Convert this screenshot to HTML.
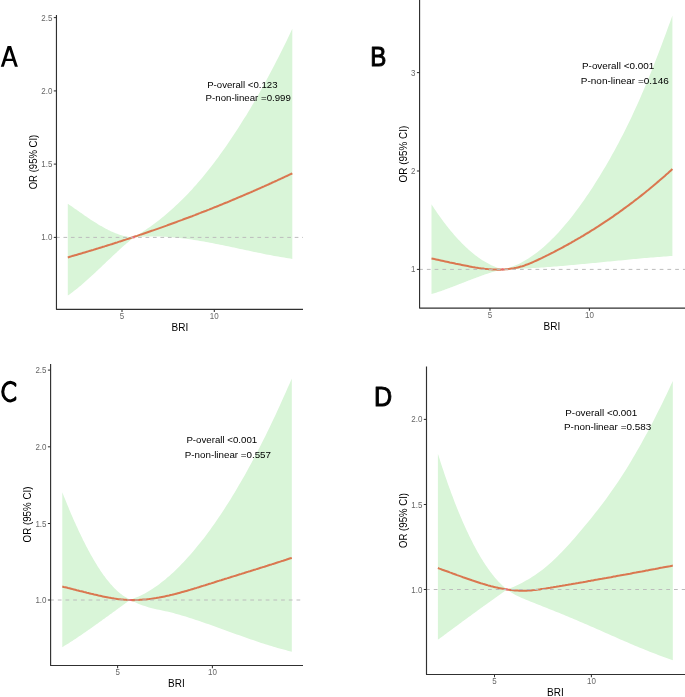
<!DOCTYPE html>
<html><head><meta charset="utf-8"><title>RCS BRI</title>
<style>
html,body{margin:0;padding:0;background:#fff;}
body{width:685px;height:697px;overflow:hidden;font-family:"Liberation Sans",sans-serif;}
svg{display:block;will-change:transform;filter:blur(0.3px);}
text{font-family:"Liberation Sans",sans-serif;}
.tk{font-size:8.7px;fill:#666666;}
.lab{font-size:10px;fill:#000;}
.ann{font-size:9.7px;fill:#000;}
.let{fill:#000;stroke:#000;stroke-width:1.0;stroke-linejoin:round;}
</style></head><body>
<svg width="685" height="697" viewBox="0 0 685 697">
<rect width="685" height="697" fill="#fff"/>
<g id="panelA">
<path d="M67.8,203.7 L68.6,204.3 L69.5,204.9 L70.3,205.4 L71.1,206.0 L72.0,206.6 L72.8,207.2 L73.6,207.8 L74.5,208.4 L75.3,209.0 L76.2,209.5 L77.0,210.1 L77.8,210.7 L78.7,211.3 L79.5,211.9 L80.3,212.5 L81.2,213.1 L82.0,213.6 L82.8,214.2 L83.7,214.8 L84.5,215.4 L85.3,216.0 L86.2,216.5 L87.0,217.1 L87.9,217.7 L88.7,218.2 L89.5,218.8 L90.4,219.4 L91.2,219.9 L92.0,220.5 L92.9,221.0 L93.7,221.5 L94.5,222.1 L95.4,222.6 L96.2,223.1 L97.0,223.6 L97.9,224.2 L98.7,224.7 L99.5,225.2 L100.4,225.7 L101.2,226.1 L102.1,226.6 L102.9,227.1 L103.7,227.6 L104.6,228.0 L105.4,228.5 L106.2,228.9 L107.1,229.3 L107.9,229.8 L108.7,230.2 L109.6,230.6 L110.4,231.0 L111.2,231.4 L112.1,231.8 L112.9,232.1 L113.7,232.5 L114.6,232.8 L115.4,233.2 L116.3,233.5 L117.1,233.8 L117.9,234.1 L118.8,234.4 L119.6,234.7 L120.4,235.0 L121.3,235.2 L122.1,235.5 L122.9,235.7 L123.8,235.9 L124.6,236.1 L125.4,236.3 L126.3,236.5 L127.1,236.6 L128.0,236.8 L128.8,236.9 L129.6,237.0 L130.5,237.1 L131.3,237.2 L132.1,237.3 L133.0,237.4 L133.8,237.4 L133.8,237.4 L135.8,236.2 L137.8,234.9 L139.8,233.7 L141.8,232.4 L143.8,231.0 L145.8,229.7 L147.8,228.3 L149.9,226.9 L151.9,225.5 L153.9,224.0 L155.9,222.5 L157.9,221.0 L159.9,219.4 L161.9,217.8 L163.9,216.2 L165.9,214.5 L167.9,212.8 L169.9,211.0 L171.9,209.3 L173.9,207.5 L175.9,205.6 L177.9,203.7 L179.9,201.8 L182.0,199.8 L184.0,197.8 L186.0,195.8 L188.0,193.7 L190.0,191.5 L192.0,189.4 L194.0,187.1 L196.0,184.9 L198.0,182.6 L200.0,180.2 L202.0,177.9 L204.0,175.4 L206.0,173.0 L208.0,170.5 L210.0,167.9 L212.0,165.4 L214.1,162.7 L216.1,160.1 L218.1,157.4 L220.1,154.6 L222.1,151.8 L224.1,149.0 L226.1,146.2 L228.1,143.3 L230.1,140.3 L232.1,137.3 L234.1,134.3 L236.1,131.3 L238.1,128.2 L240.1,125.0 L242.1,121.8 L244.1,118.6 L246.2,115.4 L248.2,112.1 L250.2,108.7 L252.2,105.3 L254.2,101.9 L256.2,98.5 L258.2,95.0 L260.2,91.4 L262.2,87.8 L264.2,84.2 L266.2,80.5 L268.2,76.8 L270.2,73.0 L272.2,69.2 L274.2,65.4 L276.2,61.5 L278.3,57.6 L280.3,53.6 L282.3,49.6 L284.3,45.5 L286.3,41.4 L288.3,37.2 L290.3,33.0 L292.3,28.7 L292.3,258.9 L290.3,258.6 L288.3,258.3 L286.3,258.0 L284.3,257.6 L282.3,257.3 L280.3,257.0 L278.3,256.6 L276.2,256.3 L274.2,255.9 L272.2,255.5 L270.2,255.1 L268.2,254.8 L266.2,254.4 L264.2,254.0 L262.2,253.6 L260.2,253.1 L258.2,252.7 L256.2,252.3 L254.2,251.9 L252.2,251.5 L250.2,251.0 L248.2,250.6 L246.2,250.2 L244.1,249.8 L242.1,249.3 L240.1,248.9 L238.1,248.5 L236.1,248.0 L234.1,247.6 L232.1,247.2 L230.1,246.7 L228.1,246.3 L226.1,245.9 L224.1,245.5 L222.1,245.1 L220.1,244.7 L218.1,244.3 L216.1,243.9 L214.1,243.5 L212.0,243.1 L210.0,242.7 L208.0,242.3 L206.0,242.0 L204.0,241.6 L202.0,241.2 L200.0,240.9 L198.0,240.6 L196.0,240.2 L194.0,239.9 L192.0,239.6 L190.0,239.3 L188.0,239.1 L186.0,238.8 L184.0,238.5 L182.0,238.3 L179.9,238.0 L177.9,237.8 L175.9,237.6 L173.9,237.4 L171.9,237.3 L169.9,237.1 L167.9,237.0 L165.9,236.8 L163.9,236.7 L161.9,236.6 L159.9,236.6 L157.9,236.5 L155.9,236.5 L153.9,236.4 L151.9,236.4 L149.9,236.5 L147.8,236.5 L145.8,236.6 L143.8,236.7 L141.8,236.8 L139.8,236.9 L137.8,237.0 L135.8,237.2 L133.8,237.4 L133.8,237.4 L133.0,238.1 L132.1,238.7 L131.3,239.4 L130.5,240.1 L129.6,240.8 L128.8,241.5 L128.0,242.2 L127.1,242.9 L126.3,243.6 L125.4,244.4 L124.6,245.1 L123.8,245.8 L122.9,246.6 L122.1,247.3 L121.3,248.1 L120.4,248.8 L119.6,249.6 L118.8,250.4 L117.9,251.1 L117.1,251.9 L116.3,252.7 L115.4,253.4 L114.6,254.2 L113.7,255.0 L112.9,255.8 L112.1,256.6 L111.2,257.4 L110.4,258.2 L109.6,258.9 L108.7,259.7 L107.9,260.5 L107.1,261.3 L106.2,262.1 L105.4,262.9 L104.6,263.7 L103.7,264.5 L102.9,265.3 L102.1,266.1 L101.2,266.9 L100.4,267.7 L99.5,268.5 L98.7,269.3 L97.9,270.1 L97.0,270.9 L96.2,271.6 L95.4,272.4 L94.5,273.2 L93.7,274.0 L92.9,274.8 L92.0,275.5 L91.2,276.3 L90.4,277.1 L89.5,277.8 L88.7,278.6 L87.9,279.3 L87.0,280.1 L86.2,280.8 L85.3,281.6 L84.5,282.3 L83.7,283.0 L82.8,283.8 L82.0,284.5 L81.2,285.2 L80.3,285.9 L79.5,286.6 L78.7,287.3 L77.8,288.0 L77.0,288.7 L76.2,289.3 L75.3,290.0 L74.5,290.6 L73.6,291.3 L72.8,291.9 L72.0,292.6 L71.1,293.2 L70.3,293.8 L69.5,294.4 L68.6,295.0 L67.8,295.6Z" fill="#d9f5d8"/>
<path d="M67.8,257.4 L69.2,257.0 L70.6,256.6 L72.0,256.1 L73.4,255.7 L74.9,255.3 L76.3,254.9 L77.7,254.5 L79.1,254.1 L80.5,253.7 L81.9,253.3 L83.3,252.8 L84.7,252.4 L86.2,252.0 L87.6,251.6 L89.0,251.1 L90.4,250.7 L91.8,250.3 L93.2,249.9 L94.6,249.4 L96.0,249.0 L97.5,248.6 L98.9,248.1 L100.3,247.7 L101.7,247.3 L103.1,246.8 L104.5,246.4 L105.9,245.9 L107.3,245.5 L108.7,245.1 L110.2,244.6 L111.6,244.2 L113.0,243.7 L114.4,243.3 L115.8,242.8 L117.2,242.4 L118.6,241.9 L120.0,241.4 L121.5,241.0 L122.9,240.5 L124.3,240.1 L125.7,239.6 L127.1,239.1 L128.5,238.7 L129.9,238.2 L131.3,237.7 L132.7,237.3 L134.2,236.8 L135.6,236.3 L137.0,235.9 L138.4,235.4 L139.8,234.9 L141.2,234.4 L142.6,234.0 L144.0,233.5 L145.5,233.0 L146.9,232.5 L148.3,232.0 L149.7,231.5 L151.1,231.0 L152.5,230.6 L153.9,230.1 L155.3,229.6 L156.8,229.1 L158.2,228.6 L159.6,228.1 L161.0,227.6 L162.4,227.1 L163.8,226.6 L165.2,226.1 L166.6,225.6 L168.0,225.0 L169.5,224.5 L170.9,224.0 L172.3,223.5 L173.7,223.0 L175.1,222.5 L176.5,222.0 L177.9,221.4 L179.3,220.9 L180.8,220.4 L182.2,219.9 L183.6,219.3 L185.0,218.8 L186.4,218.3 L187.8,217.8 L189.2,217.2 L190.6,216.7 L192.1,216.2 L193.5,215.6 L194.9,215.1 L196.3,214.5 L197.7,214.0 L199.1,213.4 L200.5,212.9 L201.9,212.3 L203.3,211.8 L204.8,211.2 L206.2,210.7 L207.6,210.1 L209.0,209.6 L210.4,209.0 L211.8,208.5 L213.2,207.9 L214.6,207.3 L216.1,206.8 L217.5,206.2 L218.9,205.6 L220.3,205.0 L221.7,204.5 L223.1,203.9 L224.5,203.3 L225.9,202.7 L227.4,202.2 L228.8,201.6 L230.2,201.0 L231.6,200.4 L233.0,199.8 L234.4,199.2 L235.8,198.6 L237.2,198.0 L238.6,197.4 L240.1,196.8 L241.5,196.2 L242.9,195.6 L244.3,195.0 L245.7,194.4 L247.1,193.8 L248.5,193.2 L249.9,192.6 L251.4,192.0 L252.8,191.4 L254.2,190.7 L255.6,190.1 L257.0,189.5 L258.4,188.9 L259.8,188.3 L261.2,187.6 L262.6,187.0 L264.1,186.4 L265.5,185.7 L266.9,185.1 L268.3,184.5 L269.7,183.8 L271.1,183.2 L272.5,182.5 L273.9,181.9 L275.4,181.2 L276.8,180.6 L278.2,179.9 L279.6,179.3 L281.0,178.6 L282.4,178.0 L283.8,177.3 L285.2,176.6 L286.7,176.0 L288.1,175.3 L289.5,174.6 L290.9,174.0 L292.3,173.3" fill="none" stroke="#da7750" stroke-width="2.05" stroke-linejoin="round"/>
<line x1="56.0" y1="237.4" x2="303.0" y2="237.4" stroke="#bcbcbc" stroke-width="1.0" stroke-dasharray="3.7 3.76"/>
<circle cx="133.8" cy="237.4" r="1.1" fill="#f2607a" fill-opacity="0.85"/>
<path d="M56.45,15.0 V309.35 H303.0" fill="none" stroke="#303030" stroke-width="1.15" stroke-linejoin="round"/>
<line x1="53.8" y1="17.6" x2="56.45" y2="17.6" stroke="#303030" stroke-width="1.05"/>
<text class="tk" transform="translate(52.4,20.6) scale(0.92,1)" text-anchor="end">2.5</text>
<line x1="53.8" y1="90.9" x2="56.45" y2="90.9" stroke="#303030" stroke-width="1.05"/>
<text class="tk" transform="translate(52.4,93.9) scale(0.92,1)" text-anchor="end">2.0</text>
<line x1="53.8" y1="164.1" x2="56.45" y2="164.1" stroke="#303030" stroke-width="1.05"/>
<text class="tk" transform="translate(52.4,167.1) scale(0.92,1)" text-anchor="end">1.5</text>
<line x1="53.8" y1="237.4" x2="56.45" y2="237.4" stroke="#303030" stroke-width="1.05"/>
<text class="tk" transform="translate(52.4,240.4) scale(0.92,1)" text-anchor="end">1.0</text>
<line x1="122.0" y1="309.35" x2="122.0" y2="312.1" stroke="#303030" stroke-width="1.05"/>
<text class="tk" transform="translate(122.0,319.0) scale(0.92,1)" text-anchor="middle">5</text>
<line x1="214.3" y1="309.35" x2="214.3" y2="312.1" stroke="#303030" stroke-width="1.05"/>
<text class="tk" transform="translate(214.3,319.0) scale(0.92,1)" text-anchor="middle">10</text>
<text class="lab" transform="translate(36.5,162.0) rotate(-90)" text-anchor="middle" textLength="54.6" lengthAdjust="spacingAndGlyphs">OR (95% CI)</text>
<text class="lab" x="171.6" y="331.0">BRI</text>
<text class="ann" x="207.2" y="87.8" textLength="70.3" lengthAdjust="spacingAndGlyphs">P-overall &lt;0.123</text>
<text class="ann" x="205.6" y="101.2" textLength="85.3" lengthAdjust="spacingAndGlyphs">P-non-linear =0.999</text>
<path fill="#000" fill-rule="evenodd" d="M0.8,66.8 L7.6,46 L11.1,46 L17.9,66.8 L14.9,66.8 L12.97,60.9 L5.73,60.9 L3.8,66.8 Z M9.35,49.8 L12.25,58.7 L6.45,58.7 Z"/>
</g>
<g id="panelB">
<path d="M431.5,204.3 L432.4,205.7 L433.3,207.1 L434.2,208.4 L435.1,209.8 L436.0,211.1 L436.9,212.4 L437.8,213.7 L438.7,215.0 L439.6,216.3 L440.5,217.5 L441.4,218.8 L442.3,220.0 L443.2,221.2 L444.1,222.4 L445.0,223.6 L445.9,224.8 L446.8,225.9 L447.7,227.1 L448.6,228.2 L449.5,229.3 L450.4,230.4 L451.3,231.5 L452.2,232.6 L453.1,233.6 L454.0,234.7 L454.9,235.7 L455.8,236.7 L456.7,237.7 L457.6,238.7 L458.5,239.7 L459.4,240.6 L460.3,241.6 L461.2,242.5 L462.1,243.4 L463.0,244.3 L463.9,245.2 L464.8,246.1 L465.7,246.9 L466.6,247.8 L467.5,248.6 L468.4,249.4 L469.3,250.2 L470.2,251.0 L471.1,251.8 L472.0,252.5 L472.9,253.3 L473.8,254.0 L474.7,254.7 L475.6,255.4 L476.5,256.1 L477.4,256.8 L478.3,257.4 L479.2,258.0 L480.1,258.7 L481.0,259.3 L481.9,259.9 L482.8,260.4 L483.7,261.0 L484.6,261.6 L485.5,262.1 L486.4,262.6 L487.3,263.1 L488.2,263.6 L489.1,264.1 L490.0,264.5 L490.9,265.0 L491.8,265.4 L492.7,265.8 L493.6,266.2 L494.5,266.6 L495.4,267.0 L496.3,267.3 L497.2,267.7 L498.1,268.0 L499.0,268.3 L499.9,268.6 L500.8,268.9 L501.7,269.2 L502.6,269.4 L502.6,269.4 L504.7,268.9 L506.9,268.4 L509.0,267.7 L511.2,267.0 L513.3,266.2 L515.5,265.3 L517.6,264.4 L519.8,263.4 L521.9,262.3 L524.1,261.1 L526.2,259.8 L528.4,258.5 L530.5,257.1 L532.7,255.6 L534.8,254.1 L537.0,252.4 L539.1,250.8 L541.3,249.0 L543.4,247.2 L545.6,245.3 L547.7,243.3 L549.9,241.2 L552.0,239.1 L554.2,237.0 L556.3,234.7 L558.5,232.4 L560.6,230.0 L562.8,227.6 L564.9,225.1 L567.1,222.5 L569.2,219.9 L571.4,217.2 L573.5,214.4 L575.7,211.6 L577.8,208.7 L580.0,205.8 L582.1,202.8 L584.3,199.7 L586.4,196.6 L588.6,193.4 L590.7,190.2 L592.9,186.9 L595.0,183.5 L597.2,180.1 L599.3,176.7 L601.5,173.1 L603.6,169.6 L605.8,165.9 L607.9,162.2 L610.1,158.5 L612.2,154.6 L614.4,150.7 L616.5,146.8 L618.7,142.7 L620.8,138.6 L623.0,134.4 L625.1,130.2 L627.3,125.8 L629.4,121.4 L631.6,116.9 L633.7,112.3 L635.9,107.6 L638.0,102.9 L640.2,98.0 L642.3,93.1 L644.5,88.1 L646.6,83.0 L648.8,77.8 L650.9,72.5 L653.1,67.1 L655.2,61.6 L657.4,56.1 L659.5,50.4 L661.7,44.7 L663.8,39.0 L666.0,33.2 L668.1,27.3 L670.3,21.4 L672.4,15.4 L672.4,255.9 L670.3,256.1 L668.1,256.2 L666.0,256.4 L663.8,256.5 L661.7,256.7 L659.5,256.9 L657.4,257.0 L655.2,257.2 L653.1,257.4 L650.9,257.6 L648.8,257.8 L646.6,258.0 L644.5,258.1 L642.3,258.3 L640.2,258.5 L638.0,258.7 L635.9,258.9 L633.7,259.1 L631.6,259.3 L629.4,259.5 L627.3,259.7 L625.1,259.9 L623.0,260.2 L620.8,260.4 L618.7,260.6 L616.5,260.8 L614.4,261.0 L612.2,261.2 L610.1,261.4 L607.9,261.6 L605.8,261.8 L603.6,262.0 L601.5,262.3 L599.3,262.5 L597.2,262.7 L595.0,262.9 L592.9,263.1 L590.7,263.3 L588.6,263.5 L586.4,263.7 L584.3,263.9 L582.1,264.1 L580.0,264.3 L577.8,264.5 L575.7,264.7 L573.5,264.9 L571.4,265.1 L569.2,265.3 L567.1,265.5 L564.9,265.7 L562.8,265.9 L560.6,266.0 L558.5,266.2 L556.3,266.4 L554.2,266.6 L552.0,266.7 L549.9,266.9 L547.7,267.1 L545.6,267.2 L543.4,267.4 L541.3,267.5 L539.1,267.7 L537.0,267.8 L534.8,267.9 L532.7,268.1 L530.5,268.2 L528.4,268.3 L526.2,268.5 L524.1,268.6 L521.9,268.7 L519.8,268.8 L517.6,268.9 L515.5,269.0 L513.3,269.1 L511.2,269.1 L509.0,269.2 L506.9,269.3 L504.7,269.3 L502.6,269.4 L502.6,269.4 L501.7,269.6 L500.8,269.8 L499.9,270.0 L499.0,270.3 L498.1,270.5 L497.2,270.7 L496.3,271.0 L495.4,271.2 L494.5,271.5 L493.6,271.8 L492.7,272.0 L491.8,272.3 L490.9,272.6 L490.0,272.9 L489.1,273.1 L488.2,273.4 L487.3,273.7 L486.4,274.0 L485.5,274.3 L484.6,274.6 L483.7,274.9 L482.8,275.3 L481.9,275.6 L481.0,275.9 L480.1,276.2 L479.2,276.5 L478.3,276.9 L477.4,277.2 L476.5,277.5 L475.6,277.9 L474.7,278.2 L473.8,278.5 L472.9,278.9 L472.0,279.2 L471.1,279.6 L470.2,279.9 L469.3,280.3 L468.4,280.6 L467.5,281.0 L466.6,281.3 L465.7,281.7 L464.8,282.0 L463.9,282.4 L463.0,282.7 L462.1,283.1 L461.2,283.4 L460.3,283.8 L459.4,284.1 L458.5,284.5 L457.6,284.8 L456.7,285.2 L455.8,285.5 L454.9,285.9 L454.0,286.2 L453.1,286.6 L452.2,286.9 L451.3,287.3 L450.4,287.6 L449.5,287.9 L448.6,288.3 L447.7,288.6 L446.8,288.9 L445.9,289.3 L445.0,289.6 L444.1,289.9 L443.2,290.2 L442.3,290.6 L441.4,290.9 L440.5,291.2 L439.6,291.5 L438.7,291.8 L437.8,292.1 L436.9,292.4 L436.0,292.7 L435.1,293.0 L434.2,293.3 L433.3,293.5 L432.4,293.8 L431.5,294.1Z" fill="#d9f5d8"/>
<path d="M431.5,258.4 L433.0,258.7 L434.5,259.1 L436.0,259.4 L437.6,259.7 L439.1,260.1 L440.6,260.4 L442.1,260.7 L443.6,261.1 L445.1,261.4 L446.7,261.7 L448.2,262.0 L449.7,262.4 L451.2,262.7 L452.7,263.0 L454.2,263.3 L455.7,263.7 L457.3,264.0 L458.8,264.3 L460.3,264.6 L461.8,264.9 L463.3,265.2 L464.8,265.5 L466.3,265.8 L467.9,266.1 L469.4,266.4 L470.9,266.7 L472.4,267.0 L473.9,267.2 L475.4,267.5 L477.0,267.7 L478.5,268.0 L480.0,268.2 L481.5,268.4 L483.0,268.6 L484.5,268.8 L486.0,268.9 L487.6,269.1 L489.1,269.2 L490.6,269.3 L492.1,269.4 L493.6,269.5 L495.1,269.5 L496.6,269.6 L498.2,269.6 L499.7,269.6 L501.2,269.6 L502.7,269.5 L504.2,269.4 L505.7,269.3 L507.3,269.2 L508.8,269.0 L510.3,268.8 L511.8,268.6 L513.3,268.4 L514.8,268.1 L516.3,267.8 L517.9,267.4 L519.4,267.0 L520.9,266.6 L522.4,266.2 L523.9,265.7 L525.4,265.1 L527.0,264.6 L528.5,264.0 L530.0,263.4 L531.5,262.8 L533.0,262.1 L534.5,261.4 L536.0,260.7 L537.6,260.0 L539.1,259.3 L540.6,258.6 L542.1,257.9 L543.6,257.1 L545.1,256.4 L546.6,255.6 L548.2,254.9 L549.7,254.1 L551.2,253.3 L552.7,252.6 L554.2,251.8 L555.7,251.0 L557.3,250.2 L558.8,249.4 L560.3,248.6 L561.8,247.8 L563.3,247.0 L564.8,246.1 L566.3,245.3 L567.9,244.5 L569.4,243.6 L570.9,242.8 L572.4,241.9 L573.9,241.1 L575.4,240.2 L576.9,239.3 L578.5,238.4 L580.0,237.6 L581.5,236.7 L583.0,235.8 L584.5,234.8 L586.0,233.9 L587.6,233.0 L589.1,232.1 L590.6,231.1 L592.1,230.2 L593.6,229.3 L595.1,228.3 L596.6,227.3 L598.2,226.4 L599.7,225.4 L601.2,224.4 L602.7,223.4 L604.2,222.4 L605.7,221.4 L607.3,220.4 L608.8,219.4 L610.3,218.3 L611.8,217.3 L613.3,216.3 L614.8,215.2 L616.3,214.1 L617.9,213.1 L619.4,212.0 L620.9,210.9 L622.4,209.8 L623.9,208.7 L625.4,207.6 L626.9,206.5 L628.5,205.4 L630.0,204.2 L631.5,203.1 L633.0,202.0 L634.5,200.8 L636.0,199.6 L637.6,198.5 L639.1,197.3 L640.6,196.1 L642.1,194.9 L643.6,193.7 L645.1,192.5 L646.6,191.2 L648.2,190.0 L649.7,188.8 L651.2,187.5 L652.7,186.3 L654.2,185.0 L655.7,183.7 L657.2,182.4 L658.8,181.1 L660.3,179.8 L661.8,178.5 L663.3,177.2 L664.8,175.9 L666.3,174.5 L667.9,173.2 L669.4,171.8 L670.9,170.4 L672.4,169.1" fill="none" stroke="#da7750" stroke-width="2.05" stroke-linejoin="round"/>
<line x1="419.1" y1="269.4" x2="685.0" y2="269.4" stroke="#bcbcbc" stroke-width="1.0" stroke-dasharray="3.75 4.01"/>
<circle cx="502.6" cy="269.4" r="1.1" fill="#f2607a" fill-opacity="0.85"/>
<path d="M419.58,0.0 V308.1 H685.0" fill="none" stroke="#303030" stroke-width="1.15" stroke-linejoin="round"/>
<line x1="416.9" y1="72.6" x2="419.58" y2="72.6" stroke="#303030" stroke-width="1.05"/>
<text class="tk" transform="translate(415.5,75.6) scale(0.92,1)" text-anchor="end">3</text>
<line x1="416.9" y1="171.0" x2="419.58" y2="171.0" stroke="#303030" stroke-width="1.05"/>
<text class="tk" transform="translate(415.5,174.0) scale(0.92,1)" text-anchor="end">2</text>
<line x1="416.9" y1="269.4" x2="419.58" y2="269.4" stroke="#303030" stroke-width="1.05"/>
<text class="tk" transform="translate(415.5,272.4) scale(0.92,1)" text-anchor="end">1</text>
<line x1="490.0" y1="308.1" x2="490.0" y2="310.8" stroke="#303030" stroke-width="1.05"/>
<text class="tk" transform="translate(490.0,317.7) scale(0.92,1)" text-anchor="middle">5</text>
<line x1="589.4" y1="308.1" x2="589.4" y2="310.8" stroke="#303030" stroke-width="1.05"/>
<text class="tk" transform="translate(589.4,317.7) scale(0.92,1)" text-anchor="middle">10</text>
<text class="lab" transform="translate(406.8,154.1) rotate(-90)" text-anchor="middle" textLength="56.7" lengthAdjust="spacingAndGlyphs">OR (95% CI)</text>
<text class="lab" x="543.6" y="330.3">BRI</text>
<text class="ann" x="582.0" y="68.8" textLength="72.2" lengthAdjust="spacingAndGlyphs">P-overall &lt;0.001</text>
<text class="ann" x="580.8" y="83.6" textLength="88.0" lengthAdjust="spacingAndGlyphs">P-non-linear =0.146</text>
<text class="let" transform="translate(370.19,65.94) scale(0.862,1.020)" font-size="28">B</text>
</g>
<g id="panelC">
<path d="M62.3,492.3 L63.2,494.5 L64.0,496.7 L64.9,498.8 L65.8,501.0 L66.6,503.1 L67.5,505.2 L68.4,507.3 L69.2,509.4 L70.1,511.4 L70.9,513.4 L71.8,515.5 L72.7,517.5 L73.5,519.4 L74.4,521.4 L75.3,523.3 L76.1,525.2 L77.0,527.1 L77.9,529.0 L78.7,530.9 L79.6,532.7 L80.5,534.5 L81.3,536.3 L82.2,538.1 L83.0,539.9 L83.9,541.6 L84.8,543.3 L85.6,545.0 L86.5,546.7 L87.4,548.3 L88.2,550.0 L89.1,551.6 L90.0,553.2 L90.8,554.7 L91.7,556.3 L92.6,557.8 L93.4,559.3 L94.3,560.8 L95.2,562.2 L96.0,563.6 L96.9,565.0 L97.7,566.4 L98.6,567.8 L99.5,569.1 L100.3,570.4 L101.2,571.7 L102.1,573.0 L102.9,574.2 L103.8,575.4 L104.7,576.6 L105.5,577.7 L106.4,578.9 L107.3,580.0 L108.1,581.1 L109.0,582.1 L109.9,583.2 L110.7,584.2 L111.6,585.1 L112.4,586.1 L113.3,587.0 L114.2,587.9 L115.0,588.8 L115.9,589.6 L116.8,590.4 L117.6,591.2 L118.5,592.0 L119.4,592.7 L120.2,593.4 L121.1,594.1 L122.0,594.7 L122.8,595.4 L123.7,595.9 L124.5,596.5 L125.4,597.0 L126.3,597.5 L127.1,598.0 L128.0,598.5 L128.9,598.9 L129.7,599.2 L130.6,599.6 L130.6,599.6 L132.6,598.9 L134.7,598.1 L136.7,597.3 L138.8,596.4 L140.8,595.5 L142.8,594.5 L144.9,593.4 L146.9,592.2 L149.0,591.0 L151.0,589.8 L153.0,588.5 L155.1,587.1 L157.1,585.7 L159.2,584.2 L161.2,582.6 L163.2,581.0 L165.3,579.4 L167.3,577.6 L169.4,575.9 L171.4,574.1 L173.5,572.2 L175.5,570.2 L177.5,568.3 L179.6,566.2 L181.6,564.1 L183.7,562.0 L185.7,559.8 L187.7,557.6 L189.8,555.3 L191.8,552.9 L193.9,550.6 L195.9,548.1 L197.9,545.6 L200.0,543.1 L202.0,540.5 L204.1,537.9 L206.1,535.2 L208.1,532.4 L210.2,529.7 L212.2,526.8 L214.3,524.0 L216.3,521.0 L218.3,518.0 L220.4,515.0 L222.4,511.9 L224.5,508.8 L226.5,505.6 L228.5,502.4 L230.6,499.2 L232.6,495.8 L234.7,492.5 L236.7,489.1 L238.7,485.6 L240.8,482.1 L242.8,478.5 L244.9,474.9 L246.9,471.3 L248.9,467.6 L251.0,463.8 L253.0,460.0 L255.1,456.1 L257.1,452.2 L259.2,448.3 L261.2,444.3 L263.2,440.3 L265.3,436.2 L267.3,432.0 L269.4,427.8 L271.4,423.6 L273.4,419.3 L275.5,414.9 L277.5,410.5 L279.6,406.1 L281.6,401.6 L283.6,397.1 L285.7,392.5 L287.7,387.8 L289.8,383.2 L291.8,378.4 L291.8,651.7 L289.8,651.2 L287.7,650.7 L285.7,650.1 L283.6,649.6 L281.6,649.0 L279.6,648.5 L277.5,647.9 L275.5,647.3 L273.4,646.7 L271.4,646.1 L269.4,645.5 L267.3,644.8 L265.3,644.2 L263.2,643.5 L261.2,642.9 L259.2,642.2 L257.1,641.5 L255.1,640.8 L253.0,640.1 L251.0,639.4 L248.9,638.7 L246.9,638.0 L244.9,637.3 L242.8,636.6 L240.8,635.8 L238.7,635.1 L236.7,634.4 L234.7,633.7 L232.6,632.9 L230.6,632.2 L228.5,631.4 L226.5,630.7 L224.5,630.0 L222.4,629.2 L220.4,628.5 L218.3,627.7 L216.3,627.0 L214.3,626.3 L212.2,625.5 L210.2,624.8 L208.1,624.1 L206.1,623.4 L204.1,622.7 L202.0,621.9 L200.0,621.2 L197.9,620.5 L195.9,619.9 L193.9,619.2 L191.8,618.5 L189.8,617.9 L187.7,617.2 L185.7,616.6 L183.7,616.0 L181.6,615.4 L179.6,614.8 L177.5,614.2 L175.5,613.7 L173.5,613.1 L171.4,612.6 L169.4,612.1 L167.3,611.6 L165.3,611.2 L163.2,610.7 L161.2,610.3 L159.2,609.8 L157.1,609.4 L155.1,608.9 L153.0,608.4 L151.0,607.9 L149.0,607.4 L146.9,606.8 L144.9,606.1 L142.8,605.5 L140.8,604.7 L138.8,603.9 L136.7,603.1 L134.7,602.1 L132.6,601.1 L130.6,600.0 L130.6,599.6 L129.7,600.2 L128.9,600.8 L128.0,601.5 L127.1,602.1 L126.3,602.7 L125.4,603.3 L124.5,604.0 L123.7,604.6 L122.8,605.2 L122.0,605.8 L121.1,606.5 L120.2,607.1 L119.4,607.7 L118.5,608.3 L117.6,609.0 L116.8,609.6 L115.9,610.2 L115.0,610.9 L114.2,611.5 L113.3,612.1 L112.4,612.7 L111.6,613.4 L110.7,614.0 L109.9,614.6 L109.0,615.3 L108.1,615.9 L107.3,616.5 L106.4,617.1 L105.5,617.8 L104.7,618.4 L103.8,619.0 L102.9,619.6 L102.1,620.3 L101.2,620.9 L100.3,621.5 L99.5,622.1 L98.6,622.8 L97.7,623.4 L96.9,624.0 L96.0,624.6 L95.2,625.2 L94.3,625.8 L93.4,626.5 L92.6,627.1 L91.7,627.7 L90.8,628.3 L90.0,628.9 L89.1,629.5 L88.2,630.1 L87.4,630.7 L86.5,631.3 L85.6,631.9 L84.8,632.5 L83.9,633.1 L83.0,633.7 L82.2,634.3 L81.3,634.9 L80.5,635.5 L79.6,636.1 L78.7,636.6 L77.9,637.2 L77.0,637.8 L76.1,638.4 L75.3,639.0 L74.4,639.5 L73.5,640.1 L72.7,640.7 L71.8,641.2 L70.9,641.8 L70.1,642.3 L69.2,642.9 L68.4,643.4 L67.5,644.0 L66.6,644.5 L65.8,645.1 L64.9,645.6 L64.0,646.1 L63.2,646.7 L62.3,647.2Z" fill="#d9f5d8"/>
<path d="M62.3,586.5 L63.7,586.9 L65.2,587.2 L66.6,587.6 L68.1,588.0 L69.5,588.3 L71.0,588.7 L72.4,589.1 L73.8,589.4 L75.3,589.8 L76.7,590.2 L78.2,590.5 L79.6,590.9 L81.1,591.2 L82.5,591.6 L84.0,592.0 L85.4,592.3 L86.8,592.7 L88.3,593.0 L89.7,593.4 L91.2,593.8 L92.6,594.1 L94.1,594.5 L95.5,594.8 L96.9,595.1 L98.4,595.5 L99.8,595.8 L101.3,596.1 L102.7,596.4 L104.2,596.7 L105.6,597.0 L107.0,597.3 L108.5,597.6 L109.9,597.8 L111.4,598.1 L112.8,598.3 L114.3,598.6 L115.7,598.8 L117.1,599.0 L118.6,599.2 L120.0,599.3 L121.5,599.5 L122.9,599.6 L124.4,599.7 L125.8,599.8 L127.3,599.9 L128.7,600.0 L130.1,600.0 L131.6,600.1 L133.0,600.1 L134.5,600.1 L135.9,600.0 L137.4,600.0 L138.8,599.9 L140.2,599.8 L141.7,599.8 L143.1,599.6 L144.6,599.5 L146.0,599.4 L147.5,599.2 L148.9,599.1 L150.3,598.9 L151.8,598.7 L153.2,598.5 L154.7,598.3 L156.1,598.1 L157.6,597.8 L159.0,597.6 L160.5,597.3 L161.9,597.0 L163.3,596.7 L164.8,596.4 L166.2,596.1 L167.7,595.8 L169.1,595.5 L170.6,595.1 L172.0,594.8 L173.4,594.4 L174.9,594.1 L176.3,593.7 L177.8,593.3 L179.2,592.9 L180.7,592.5 L182.1,592.1 L183.5,591.7 L185.0,591.3 L186.4,590.9 L187.9,590.5 L189.3,590.1 L190.8,589.6 L192.2,589.2 L193.6,588.8 L195.1,588.3 L196.5,587.9 L198.0,587.4 L199.4,587.0 L200.9,586.5 L202.3,586.1 L203.8,585.6 L205.2,585.2 L206.6,584.7 L208.1,584.3 L209.5,583.8 L211.0,583.4 L212.4,582.9 L213.9,582.5 L215.3,582.0 L216.7,581.5 L218.2,581.1 L219.6,580.6 L221.1,580.2 L222.5,579.7 L224.0,579.3 L225.4,578.8 L226.8,578.4 L228.3,577.9 L229.7,577.5 L231.2,577.0 L232.6,576.6 L234.1,576.1 L235.5,575.7 L237.0,575.2 L238.4,574.8 L239.8,574.3 L241.3,573.9 L242.7,573.4 L244.2,573.0 L245.6,572.5 L247.1,572.1 L248.5,571.6 L249.9,571.2 L251.4,570.7 L252.8,570.3 L254.3,569.8 L255.7,569.4 L257.2,568.9 L258.6,568.5 L260.0,568.0 L261.5,567.6 L262.9,567.1 L264.4,566.7 L265.8,566.2 L267.3,565.8 L268.7,565.3 L270.1,564.8 L271.6,564.4 L273.0,563.9 L274.5,563.5 L275.9,563.0 L277.4,562.5 L278.8,562.1 L280.3,561.6 L281.7,561.1 L283.1,560.7 L284.6,560.2 L286.0,559.8 L287.5,559.3 L288.9,558.8 L290.4,558.3 L291.8,557.9" fill="none" stroke="#da7750" stroke-width="2.05" stroke-linejoin="round"/>
<line x1="50.1" y1="600.0" x2="303.0" y2="600.0" stroke="#bcbcbc" stroke-width="1.0" stroke-dasharray="3.75 3.95"/>
<circle cx="130.6" cy="600.0" r="1.1" fill="#f2607a" fill-opacity="0.85"/>
<path d="M50.6,364.0 V665.5 H303.0" fill="none" stroke="#303030" stroke-width="1.15" stroke-linejoin="round"/>
<line x1="47.9" y1="370.1" x2="50.6" y2="370.1" stroke="#303030" stroke-width="1.05"/>
<text class="tk" transform="translate(46.5,373.1) scale(0.92,1)" text-anchor="end">2.5</text>
<line x1="47.9" y1="446.8" x2="50.6" y2="446.8" stroke="#303030" stroke-width="1.05"/>
<text class="tk" transform="translate(46.5,449.8) scale(0.92,1)" text-anchor="end">2.0</text>
<line x1="47.9" y1="523.5" x2="50.6" y2="523.5" stroke="#303030" stroke-width="1.05"/>
<text class="tk" transform="translate(46.5,526.5) scale(0.92,1)" text-anchor="end">1.5</text>
<line x1="47.9" y1="600.0" x2="50.6" y2="600.0" stroke="#303030" stroke-width="1.05"/>
<text class="tk" transform="translate(46.5,603.0) scale(0.92,1)" text-anchor="end">1.0</text>
<line x1="117.6" y1="665.5" x2="117.6" y2="668.2" stroke="#303030" stroke-width="1.05"/>
<text class="tk" transform="translate(117.6,675.1) scale(0.92,1)" text-anchor="middle">5</text>
<line x1="212.4" y1="665.5" x2="212.4" y2="668.2" stroke="#303030" stroke-width="1.05"/>
<text class="tk" transform="translate(212.4,675.1) scale(0.92,1)" text-anchor="middle">10</text>
<text class="lab" transform="translate(31.0,514.5) rotate(-90)" text-anchor="middle" textLength="55.8" lengthAdjust="spacingAndGlyphs">OR (95% CI)</text>
<text class="lab" x="168.0" y="686.5">BRI</text>
<text class="ann" x="186.4" y="443.4" textLength="70.8" lengthAdjust="spacingAndGlyphs">P-overall &lt;0.001</text>
<text class="ann" x="184.8" y="458.3" textLength="86.2" lengthAdjust="spacingAndGlyphs">P-non-linear =0.557</text>
<clipPath id="clipC"><rect x="0" y="375" width="16.35" height="35"/></clipPath>
<path clip-path="url(#clipC)" fill="none" stroke="#000" stroke-width="3.05" d="M16.68,386.21 A7.7,9.25 0 1 0 16.68,397.09"/>
</g>
<g id="panelD">
<path d="M437.9,453.8 L438.8,456.6 L439.7,459.3 L440.5,462.0 L441.4,464.7 L442.3,467.4 L443.2,470.0 L444.0,472.6 L444.9,475.2 L445.8,477.7 L446.7,480.3 L447.5,482.8 L448.4,485.2 L449.3,487.7 L450.2,490.1 L451.0,492.5 L451.9,494.8 L452.8,497.1 L453.7,499.4 L454.5,501.7 L455.4,504.0 L456.3,506.2 L457.2,508.4 L458.0,510.6 L458.9,512.7 L459.8,514.8 L460.7,516.9 L461.6,518.9 L462.4,521.0 L463.3,523.0 L464.2,525.0 L465.1,526.9 L465.9,528.8 L466.8,530.7 L467.7,532.6 L468.6,534.4 L469.4,536.3 L470.3,538.0 L471.2,539.8 L472.1,541.5 L472.9,543.3 L473.8,544.9 L474.7,546.6 L475.6,548.2 L476.4,549.8 L477.3,551.4 L478.2,553.0 L479.1,554.5 L479.9,556.0 L480.8,557.5 L481.7,558.9 L482.6,560.3 L483.4,561.7 L484.3,563.1 L485.2,564.4 L486.1,565.7 L487.0,567.0 L487.8,568.3 L488.7,569.5 L489.6,570.7 L490.5,571.9 L491.3,573.1 L492.2,574.2 L493.1,575.3 L494.0,576.4 L494.8,577.4 L495.7,578.5 L496.6,579.5 L497.5,580.4 L498.3,581.4 L499.2,582.3 L500.1,583.2 L501.0,584.1 L501.8,584.9 L502.7,585.8 L503.6,586.6 L504.5,587.3 L505.3,588.1 L506.2,588.8 L507.1,589.5 L507.1,589.5 L509.2,588.7 L511.3,587.8 L513.4,586.9 L515.5,586.0 L517.6,585.0 L519.7,584.0 L521.8,582.9 L523.9,581.8 L526.0,580.6 L528.1,579.4 L530.2,578.2 L532.3,576.8 L534.4,575.5 L536.5,574.0 L538.6,572.6 L540.7,571.0 L542.8,569.4 L544.9,567.8 L547.0,566.0 L549.0,564.2 L551.1,562.4 L553.2,560.5 L555.3,558.5 L557.4,556.4 L559.5,554.3 L561.6,552.2 L563.7,550.0 L565.8,547.8 L567.9,545.5 L570.0,543.2 L572.1,540.8 L574.2,538.4 L576.3,536.0 L578.4,533.6 L580.5,531.1 L582.6,528.6 L584.7,526.1 L586.8,523.5 L588.9,521.0 L591.0,518.4 L593.1,515.8 L595.2,513.1 L597.3,510.5 L599.4,507.8 L601.5,505.0 L603.6,502.2 L605.7,499.4 L607.8,496.5 L609.9,493.6 L612.0,490.6 L614.1,487.6 L616.2,484.5 L618.3,481.4 L620.4,478.2 L622.5,475.0 L624.6,471.7 L626.7,468.4 L628.8,465.0 L630.9,461.5 L632.9,458.0 L635.0,454.5 L637.1,450.8 L639.2,447.2 L641.3,443.4 L643.4,439.6 L645.5,435.8 L647.6,431.9 L649.7,428.0 L651.8,424.0 L653.9,419.9 L656.0,415.8 L658.1,411.6 L660.2,407.4 L662.3,403.2 L664.4,398.8 L666.5,394.5 L668.6,390.1 L670.7,385.6 L672.8,381.1 L672.8,660.2 L670.7,659.5 L668.6,658.7 L666.5,658.0 L664.4,657.2 L662.3,656.5 L660.2,655.7 L658.1,654.9 L656.0,654.1 L653.9,653.3 L651.8,652.5 L649.7,651.7 L647.6,650.8 L645.5,650.0 L643.4,649.1 L641.3,648.3 L639.2,647.4 L637.1,646.5 L635.0,645.7 L632.9,644.8 L630.9,643.9 L628.8,643.0 L626.7,642.1 L624.6,641.2 L622.5,640.3 L620.4,639.4 L618.3,638.4 L616.2,637.5 L614.1,636.6 L612.0,635.7 L609.9,634.7 L607.8,633.8 L605.7,632.9 L603.6,632.0 L601.5,631.0 L599.4,630.1 L597.3,629.2 L595.2,628.3 L593.1,627.3 L591.0,626.4 L588.9,625.5 L586.8,624.6 L584.7,623.7 L582.6,622.8 L580.5,621.9 L578.4,621.0 L576.3,620.1 L574.2,619.2 L572.1,618.3 L570.0,617.4 L567.9,616.6 L565.8,615.7 L563.7,614.8 L561.6,614.0 L559.5,613.1 L557.4,612.3 L555.3,611.4 L553.2,610.6 L551.1,609.7 L549.0,608.9 L547.0,608.1 L544.9,607.2 L542.8,606.4 L540.7,605.6 L538.6,604.7 L536.5,603.9 L534.4,603.1 L532.3,602.2 L530.2,601.4 L528.1,600.6 L526.0,599.7 L523.9,598.8 L521.8,597.9 L519.7,597.0 L517.6,596.0 L515.5,594.9 L513.4,593.7 L511.3,592.4 L509.2,591.0 L507.1,589.5 L507.1,589.5 L506.2,590.1 L505.3,590.7 L504.5,591.3 L503.6,592.0 L502.7,592.6 L501.8,593.2 L501.0,593.8 L500.1,594.4 L499.2,595.0 L498.3,595.7 L497.5,596.3 L496.6,596.9 L495.7,597.5 L494.8,598.2 L494.0,598.8 L493.1,599.4 L492.2,600.0 L491.3,600.7 L490.5,601.3 L489.6,601.9 L488.7,602.5 L487.8,603.2 L487.0,603.8 L486.1,604.4 L485.2,605.1 L484.3,605.7 L483.4,606.3 L482.6,606.9 L481.7,607.6 L480.8,608.2 L479.9,608.8 L479.1,609.5 L478.2,610.1 L477.3,610.8 L476.4,611.4 L475.6,612.0 L474.7,612.7 L473.8,613.3 L472.9,613.9 L472.1,614.6 L471.2,615.2 L470.3,615.9 L469.4,616.5 L468.6,617.1 L467.7,617.8 L466.8,618.4 L465.9,619.1 L465.1,619.7 L464.2,620.3 L463.3,621.0 L462.4,621.6 L461.6,622.3 L460.7,622.9 L459.8,623.6 L458.9,624.2 L458.0,624.9 L457.2,625.5 L456.3,626.2 L455.4,626.8 L454.5,627.4 L453.7,628.1 L452.8,628.7 L451.9,629.4 L451.0,630.0 L450.2,630.7 L449.3,631.3 L448.4,632.0 L447.5,632.6 L446.7,633.3 L445.8,633.9 L444.9,634.6 L444.0,635.2 L443.2,635.9 L442.3,636.5 L441.4,637.2 L440.5,637.8 L439.7,638.5 L438.8,639.1 L437.9,639.8Z" fill="#d9f5d8"/>
<path d="M437.9,568.0 L439.4,568.6 L440.9,569.1 L442.3,569.7 L443.8,570.2 L445.3,570.8 L446.8,571.3 L448.2,571.8 L449.7,572.4 L451.2,572.9 L452.7,573.5 L454.2,574.0 L455.6,574.5 L457.1,575.1 L458.6,575.6 L460.1,576.1 L461.5,576.6 L463.0,577.2 L464.5,577.7 L466.0,578.2 L467.4,578.7 L468.9,579.2 L470.4,579.7 L471.9,580.3 L473.4,580.8 L474.8,581.2 L476.3,581.7 L477.8,582.2 L479.3,582.7 L480.7,583.2 L482.2,583.6 L483.7,584.1 L485.2,584.5 L486.7,584.9 L488.1,585.4 L489.6,585.8 L491.1,586.2 L492.6,586.5 L494.0,586.9 L495.5,587.3 L497.0,587.6 L498.5,587.9 L499.9,588.2 L501.4,588.5 L502.9,588.8 L504.4,589.1 L505.9,589.3 L507.3,589.6 L508.8,589.8 L510.3,590.0 L511.8,590.1 L513.2,590.3 L514.7,590.4 L516.2,590.5 L517.7,590.6 L519.2,590.7 L520.6,590.7 L522.1,590.7 L523.6,590.7 L525.1,590.7 L526.5,590.7 L528.0,590.6 L529.5,590.5 L531.0,590.4 L532.5,590.2 L533.9,590.1 L535.4,589.9 L536.9,589.7 L538.4,589.6 L539.8,589.4 L541.3,589.1 L542.8,588.9 L544.3,588.7 L545.7,588.5 L547.2,588.2 L548.7,588.0 L550.2,587.8 L551.7,587.5 L553.1,587.3 L554.6,587.0 L556.1,586.8 L557.6,586.5 L559.0,586.3 L560.5,586.0 L562.0,585.8 L563.5,585.5 L565.0,585.3 L566.4,585.0 L567.9,584.8 L569.4,584.5 L570.9,584.3 L572.3,584.0 L573.8,583.7 L575.3,583.5 L576.8,583.2 L578.2,583.0 L579.7,582.7 L581.2,582.4 L582.7,582.2 L584.2,581.9 L585.6,581.7 L587.1,581.4 L588.6,581.1 L590.1,580.9 L591.5,580.6 L593.0,580.4 L594.5,580.1 L596.0,579.8 L597.5,579.6 L598.9,579.3 L600.4,579.0 L601.9,578.8 L603.4,578.5 L604.8,578.2 L606.3,578.0 L607.8,577.7 L609.3,577.4 L610.8,577.2 L612.2,576.9 L613.7,576.6 L615.2,576.4 L616.7,576.1 L618.1,575.8 L619.6,575.6 L621.1,575.3 L622.6,575.0 L624.0,574.7 L625.5,574.5 L627.0,574.2 L628.5,573.9 L630.0,573.7 L631.4,573.4 L632.9,573.1 L634.4,572.8 L635.9,572.6 L637.3,572.3 L638.8,572.0 L640.3,571.7 L641.8,571.5 L643.3,571.2 L644.7,570.9 L646.2,570.6 L647.7,570.4 L649.2,570.1 L650.6,569.8 L652.1,569.5 L653.6,569.2 L655.1,569.0 L656.5,568.7 L658.0,568.4 L659.5,568.1 L661.0,567.8 L662.5,567.6 L663.9,567.3 L665.4,567.0 L666.9,566.7 L668.4,566.4 L669.8,566.2 L671.3,565.9 L672.8,565.6" fill="none" stroke="#da7750" stroke-width="2.05" stroke-linejoin="round"/>
<line x1="426.0" y1="589.5" x2="685.0" y2="589.5" stroke="#bcbcbc" stroke-width="1.0" stroke-dasharray="3.75 4.0"/>
<circle cx="507.1" cy="589.5" r="1.1" fill="#f2607a" fill-opacity="0.85"/>
<path d="M426.5,366.6 V674.5 H685.0" fill="none" stroke="#303030" stroke-width="1.15" stroke-linejoin="round"/>
<line x1="423.8" y1="419.4" x2="426.5" y2="419.4" stroke="#303030" stroke-width="1.05"/>
<text class="tk" transform="translate(422.4,422.4) scale(0.92,1)" text-anchor="end">2.0</text>
<line x1="423.8" y1="504.5" x2="426.5" y2="504.5" stroke="#303030" stroke-width="1.05"/>
<text class="tk" transform="translate(422.4,507.5) scale(0.92,1)" text-anchor="end">1.5</text>
<line x1="423.8" y1="589.5" x2="426.5" y2="589.5" stroke="#303030" stroke-width="1.05"/>
<text class="tk" transform="translate(422.4,592.5) scale(0.92,1)" text-anchor="end">1.0</text>
<line x1="494.5" y1="674.5" x2="494.5" y2="677.2" stroke="#303030" stroke-width="1.05"/>
<text class="tk" transform="translate(494.5,684.1) scale(0.92,1)" text-anchor="middle">5</text>
<line x1="591.4" y1="674.5" x2="591.4" y2="677.2" stroke="#303030" stroke-width="1.05"/>
<text class="tk" transform="translate(591.4,684.1) scale(0.92,1)" text-anchor="middle">10</text>
<text class="lab" transform="translate(406.8,520.5) rotate(-90)" text-anchor="middle" textLength="55.0" lengthAdjust="spacingAndGlyphs">OR (95% CI)</text>
<text class="lab" x="547.0" y="696.4">BRI</text>
<text class="ann" x="565.3" y="415.5" textLength="72.0" lengthAdjust="spacingAndGlyphs">P-overall &lt;0.001</text>
<text class="ann" x="564.0" y="430.2" textLength="87.2" lengthAdjust="spacingAndGlyphs">P-non-linear =0.583</text>
<text class="let" transform="translate(373.93,405.65) scale(0.898,1.005)" font-size="28">D</text>
</g>
</svg></body></html>
